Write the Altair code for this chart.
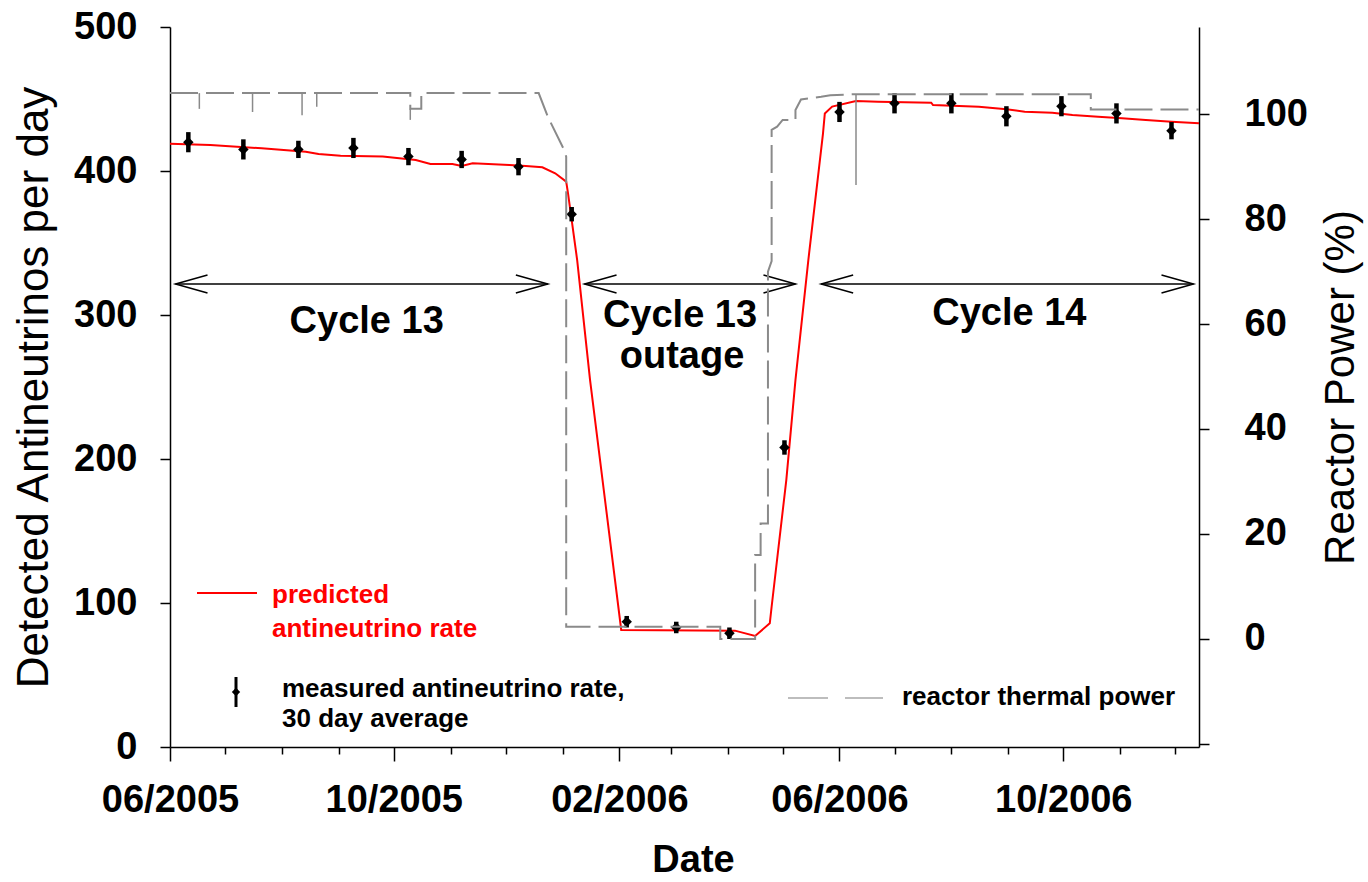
import altair as alt
import pandas as pd

FONT = "Liberation Sans"

# Measured antineutrino rate, 30 day averages (counts/day) with 1-sigma errors
meas_dates = ["2005-06-11", "2005-07-11", "2005-08-10", "2005-09-09", "2005-10-09",
              "2005-11-07", "2005-12-08", "2006-01-06", "2006-02-05", "2006-03-04",
              "2006-04-02", "2006-05-02", "2006-06-01", "2006-07-01", "2006-08-01",
              "2006-08-31", "2006-09-30", "2006-10-30", "2006-11-29"]
meas_rate = [420, 415, 415, 416, 410, 408, 403, 370, 87, 83,
             79, 208, 441, 447, 447, 438, 445, 440, 428]
meas_err = [7, 7, 6, 7, 6, 6, 6, 5, 4, 4, 4, 5, 7, 7, 7, 7, 7, 7, 6]

# Predicted antineutrino rate (counts/day)
pred_dates = ["2005-06-01", "2005-06-23", "2005-07-21", "2005-08-14", "2005-08-21",
              "2005-09-02", "2005-09-25", "2005-10-13", "2005-10-21", "2005-11-02",
              "2005-11-07", "2005-11-13", "2005-12-03", "2005-12-12", "2005-12-21",
              "2005-12-28", "2006-01-03", "2006-01-04", "2006-01-09", "2006-01-16",
              "2006-02-02", "2006-04-05", "2006-04-16", "2006-04-24", "2006-04-25",
              "2006-05-03", "2006-05-08", "2006-05-15", "2006-05-23", "2006-05-24",
              "2006-05-28", "2006-06-10", "2006-06-22", "2006-07-21", "2006-07-22",
              "2006-08-16", "2006-08-31", "2006-09-10", "2006-09-25", "2006-10-06",
              "2006-10-20", "2006-11-02", "2006-11-15", "2006-11-29", "2006-12-14"]
pred_rate = [419, 418, 415.8, 413.4, 411.8, 410.6, 410, 407.6, 404.9, 404.9,
             403.5, 405.3, 404.2, 403.5, 402.6, 398.4, 392.6, 384.5, 338, 255,
             81.3, 80.8, 77.1, 85.9, 97.4, 185.4, 255, 338, 426, 440,
             444.7, 448.6, 448.1, 447.4, 445.8, 444.7, 442.8, 441.2, 440.5, 438.9,
             437.7, 436.6, 435.4, 434.2, 433.1]

# Reactor thermal power (% of nominal)
power_dates = ["2005-06-01", "2005-10-10", "2005-10-10", "2005-10-16", "2005-10-16",
               "2005-12-19", "2005-12-24", "2006-01-02", "2006-01-03", "2006-01-03",
               "2006-03-28", "2006-03-28", "2006-04-16", "2006-04-16", "2006-04-19",
               "2006-04-19", "2006-04-23", "2006-04-23", "2006-04-25", "2006-04-25",
               "2006-04-28", "2006-05-01", "2006-05-08", "2006-05-08", "2006-05-11",
               "2006-05-22", "2006-05-27", "2006-06-10", "2006-10-16", "2006-10-16",
               "2006-12-14"]
power_pct = [104, 104, 101, 101, 104,
             104, 99.5, 93.1, 91.9, 2.3,
             2.3, 0, 0, 16, 16,
             22, 22, 70, 72, 97,
             97.6, 98.9, 98.9, 100.8, 102.8,
             103.3, 103.6, 103.8, 103.8, 100.9,
             100.9]

# Short power dips
dip_dates = ["2005-06-17", "2005-07-16", "2005-08-12", "2005-08-20", "2005-10-10", "2006-06-10"]
dip_top = [104, 104, 104, 104, 101, 103.8]
dip_low = [101, 100.4, 99.8, 101.4, 98.9, 86.5]

# Fuel cycle periods
cycle_start = ["2005-06-04", "2006-01-13", "2006-05-22"]
cycle_end = ["2005-12-24", "2006-05-08", "2006-12-11"]

# Monthly ticks on the date axis
tick_months = ["2005-06", "2005-07", "2005-08", "2005-09", "2005-10", "2005-11",
               "2005-12", "2006-01", "2006-02", "2006-03", "2006-04", "2006-05",
               "2006-06", "2006-07", "2006-08", "2006-09", "2006-10", "2006-11",
               "2006-12"]
left_ticks = [0, 100, 200, 300, 400, 500]
right_ticks = [-20, 0, 20, 40, 60, 80, 100]

W, H = 1029, 720

meas = pd.DataFrame({"date": meas_dates, "rate": meas_rate, "err": meas_err})
pred = pd.DataFrame({"date": pred_dates, "rate": pred_rate})
power = pd.DataFrame({"date": power_dates, "pct": power_pct, "idx": range(len(power_dates))})
dips = pd.DataFrame({"date": dip_dates, "top": dip_top, "low": dip_low})
cyc = pd.DataFrame({"start": pd.to_datetime(cycle_start), "end": pd.to_datetime(cycle_end)})
cyc["mid"] = cyc["start"] + (cyc["end"] - cyc["start"]) / 2
one = pd.DataFrame({"k": [0]})

tick_values = [alt.DateTime(year=int(m[:4]), month=int(m[5:]), date=1, utc=True) for m in tick_months]
major = "utcmonth(datum.value) % 4 == 1"

x_axis = alt.Axis(
    title="Date", values=tick_values,
    labelExpr=f"{major} ? utcFormat(datum.value, '%m/%Y') : ''",
    labelOverlap=False, labelFlush=False,
    tickSize={"condition": {"test": major, "value": 14}, "value": 7},
    labelPadding=20, labelFontSize=38, labelFontWeight="bold",
    titleFontSize=38, titleFontWeight="bold",
    titleX=523, titleY=124, titleAlign="center", titleBaseline="alphabetic",
)
x_scale = alt.Scale(type="utc", nice=False,
                    domain=[alt.DateTime(year=2005, month=6, date=1, utc=True),
                            alt.DateTime(year=2006, month=12, date=14, utc=True)])

left_axis = alt.Axis(
    title="Detected Antineutrinos per day", orient="left", values=left_ticks,
    tickSize=10, labelPadding=23, labelFontSize=38, labelFontWeight="bold",
    titleFontSize=44, titleFontWeight="normal", titleAngle=270,
    titleX=-123, titleY=360, titleAlign="center", titleBaseline="alphabetic",
)
left_scale = alt.Scale(domain=[0, 500], nice=False, zero=False)

right_axis = alt.Axis(
    title="Reactor Power (%)", orient="right", values=right_ticks,
    labelExpr="datum.value < 0 ? '' : datum.label",
    tickSize=10, labelPadding=35, labelFontSize=38, labelFontWeight="bold",
    titleFontSize=42, titleFontWeight="normal", titleAngle=270,
    titleX=154, titleY=360, titleAlign="center", titleBaseline="alphabetic",
)
right_scale = alt.Scale(domain=[-20.6, 116.6], nice=False, zero=False)


def X(field):
    return alt.X(f"{field}:T", scale=x_scale, axis=x_axis)


def YL(field):
    return alt.Y(f"{field}:Q", scale=left_scale, axis=left_axis)


# predicted rate
pred_line = alt.Chart(pred).mark_line(color="#ff0000", strokeWidth=2).encode(
    x=X("date"), y=YL("rate"))

# measured rate with error bars
meas_base = alt.Chart(meas).transform_calculate(
    lo="datum.rate - datum.err", hi="datum.rate + datum.err")
meas_bars = meas_base.mark_rule(color="black", strokeWidth=4.5).encode(
    x=X("date"), y=YL("lo"), y2="hi:Q")
meas_dots = meas_base.mark_point(shape="diamond", filled=True, color="black",
                                 size=110, opacity=1).encode(x=X("date"), y=YL("rate"))

# cycle annotations: double-headed arrows and labels
ARROW_Y = 257
arrow_line = alt.Chart(cyc).mark_rule(color="black", strokeWidth=1.5).encode(
    x=X("start"), x2="end:T", y=alt.value(ARROW_Y))
arrow_left = alt.Chart(cyc).mark_point(
    shape="M1,-0.28L0,0L1,0.28", filled=False, color="black", strokeWidth=1.5,
    size=4096, opacity=1).encode(x=X("start"), y=alt.value(ARROW_Y))
arrow_right = alt.Chart(cyc).mark_point(
    shape="M-1,-0.28L0,0L-1,0.28", filled=False, color="black", strokeWidth=1.5,
    size=4096, opacity=1).encode(x=X("end"), y=alt.value(ARROW_Y))


def cycle_label(i, text, dx, y):
    return alt.Chart(cyc.iloc[[i]]).mark_text(
        text=text, dx=dx, font=FONT, fontSize=38, fontWeight="bold",
        align="center", baseline="alphabetic", color="black").encode(
        x=X("mid"), y=alt.value(y))


labels = [
    cycle_label(0, "Cycle 13", 5, 306),
    cycle_label(1, "Cycle 13", -10, 300),
    cycle_label(1, "outage", -8, 341),
    cycle_label(2, "Cycle 14", 2, 298),
]


# legend entries
def legend_text(text, x, y, color="black"):
    return alt.Chart(one).mark_text(
        text=text, font=FONT, fontSize=26, fontWeight="bold", align="left",
        baseline="alphabetic", color=color).encode(x=alt.value(x), y=alt.value(y))


leg_pred_line = alt.Chart(one).mark_rule(color="#ff0000", strokeWidth=2).encode(
    x=alt.value(27), x2=alt.value(87), y=alt.value(566))
leg_meas_bar = alt.Chart(one).mark_rule(color="black", strokeWidth=3).encode(
    x=alt.value(66), y=alt.value(650), y2=alt.value(680))
leg_meas_dot = alt.Chart(one).mark_point(shape="diamond", filled=True, color="black",
                                         size=70, opacity=1).encode(
    x=alt.value(66), y=alt.value(665))
leg_power_line = alt.Chart(one).mark_rule(color="#bdbdbd", strokeWidth=2,
                                          strokeDash=[40, 17]).encode(
    x=alt.value(618), x2=alt.value(713), y=alt.value(671))

left_group = alt.layer(
    pred_line, meas_bars, meas_dots, arrow_line, arrow_left, arrow_right, *labels,
    leg_pred_line,
    legend_text("predicted", 102, 576, "#ff0000"),
    legend_text("antineutrino rate", 102, 610, "#ff0000"),
    leg_meas_bar, leg_meas_dot,
    legend_text("measured antineutrino rate,", 112, 670),
    legend_text("30 day average", 112, 700),
    leg_power_line,
    legend_text("reactor thermal power", 732, 678),
)

# reactor power on the right axis
power_line = alt.Chart(power).mark_line(color="#8a8a8a", strokeWidth=2,
                                        strokeDash=[28, 8]).encode(
    x=X("date"), y=alt.Y("pct:Q", scale=right_scale, axis=right_axis),
    order="idx:Q")
power_dips = alt.Chart(dips).mark_rule(color="#8a8a8a", strokeWidth=1.5).encode(
    x=X("date"), y=alt.Y("low:Q", scale=right_scale, axis=right_axis), y2="top:Q")
right_group = alt.layer(power_line, power_dips)

chart = (
    alt.layer(left_group, right_group)
    .resolve_scale(y="independent")
    .properties(width=W, height=H, autosize=alt.AutoSizeParams(type="none"),
                padding={"left": 170, "top": 27, "right": 169, "bottom": 135},
                background="white")
    .configure_view(stroke=None)
    .configure_axis(labelFont=FONT, titleFont=FONT, labelColor="black",
                    titleColor="black", domainColor="black", tickColor="black",
                    domainWidth=1.5, tickWidth=1.5, grid=False)
)

chart.save("out.html", embed_options={"renderer": "svg", "actions": False})
